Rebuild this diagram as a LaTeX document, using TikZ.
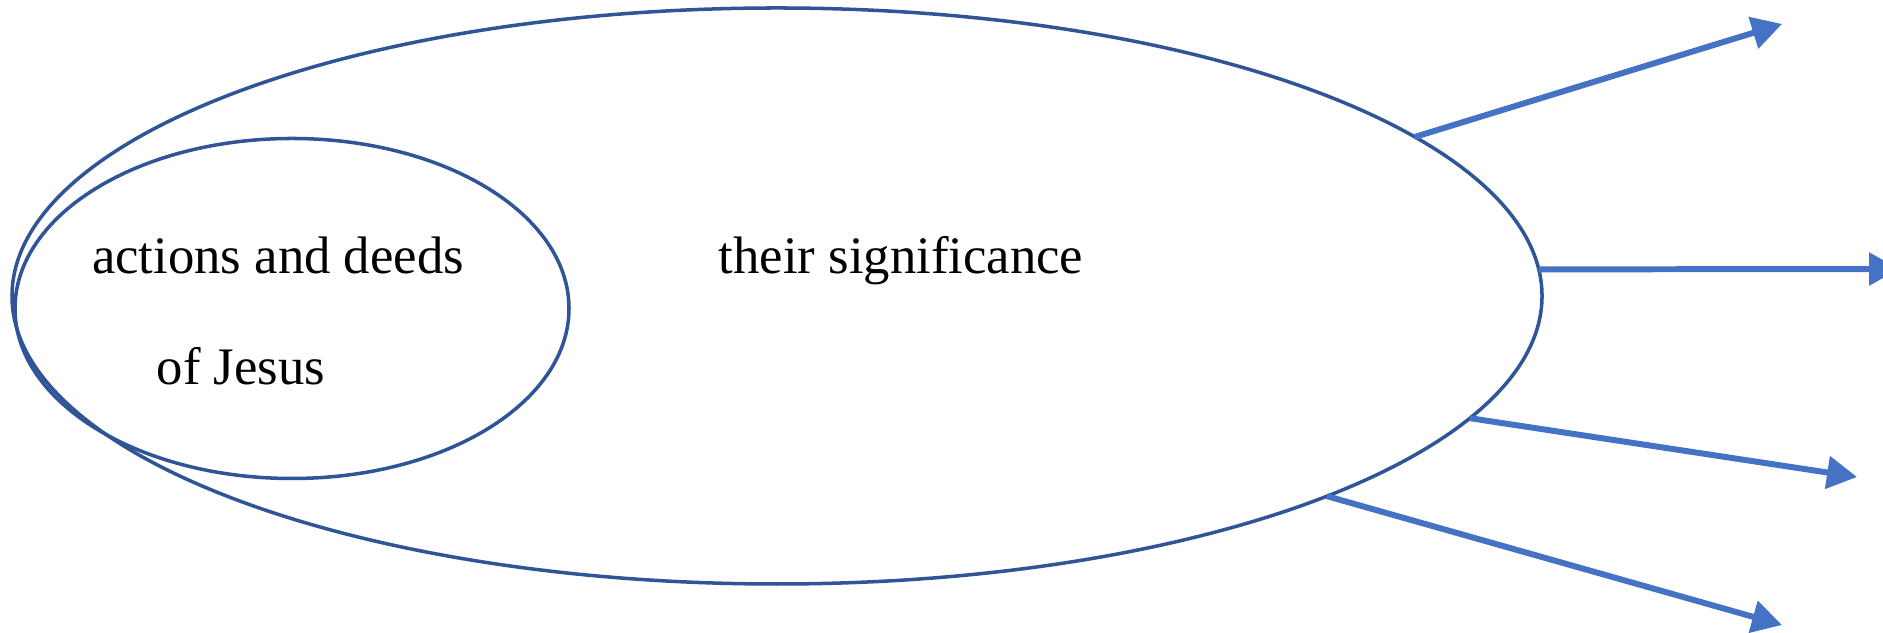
\documentclass[tikz,border=0pt]{standalone}
\usepackage{fontspec}
\setmainfont{Liberation Serif}
\usepackage{tikz}
\usetikzlibrary{arrows.meta,positioning,shapes.geometric}
\definecolor{rim}{HTML}{2F5597}
\definecolor{raycol}{HTML}{4472C4}

\begin{document}
\begin{tikzpicture}[
  oval/.style={ellipse,draw=rim,line width=1pt,inner sep=0pt,outer sep=0pt},
  txt/.style={font=\fontsize{15}{18}\selectfont,anchor=base,inner sep=0pt},
  spoke/.style={-{Triangle[length=3mm,width=3.2mm]},line width=1.7pt,raycol}
]
\useasboundingbox (0,0) rectangle (18.83,6.33);
\node[oval,minimum width=15.30cm,minimum height=5.76cm] (sig) at (7.77,3.37) {};
\node[oval,minimum width=5.54cm,minimum height=3.40cm] (deeds) at (2.92,3.245) {};
\node[txt] (dtop) at (2.78,3.59) {actions and deeds};
\node[txt] (dbot) at (2.41,2.48) {of Jesus};
\node[txt] (stxt) at (9.01,3.59) {their significance};
\coordinate (t1) at (17.82,6.09);
\coordinate (t2) at (18.99,3.64);
\coordinate (t3) at (18.57,1.56);
\coordinate (t4) at (17.82,0.08);
\draw[spoke] (sig.14.7) -- (t1);
\draw[spoke] (sig.2) -- (t2);
\draw[spoke] (sig.-10.5) -- (t3);
\draw[spoke] (sig.-20) -- (t4);
\end{tikzpicture}
\end{document}
